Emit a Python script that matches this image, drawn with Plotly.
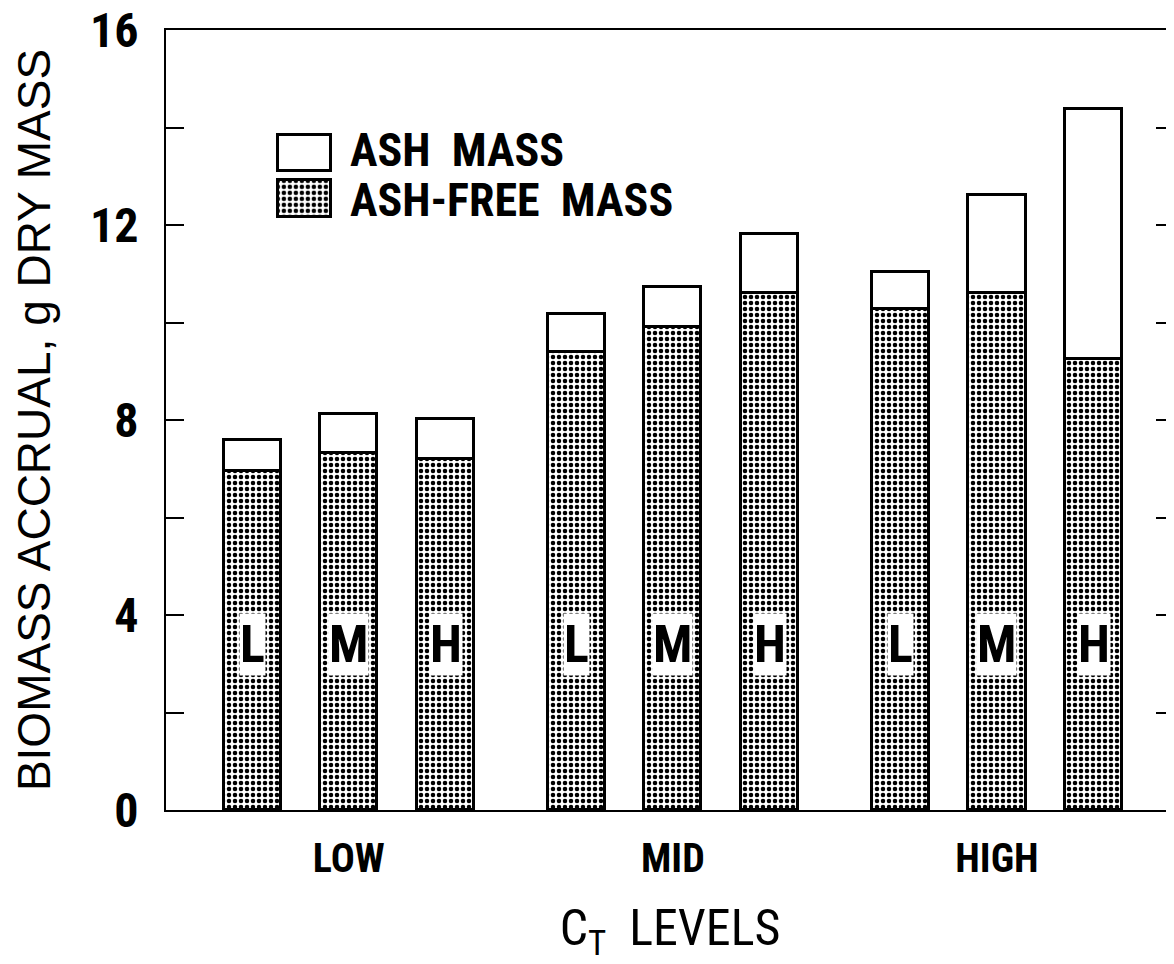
import plotly.graph_objects as go

groups = ["LOW", "MID", "HIGH"]
levels = ["L", "M", "H"]
ash_free = [6.96, 7.33, 7.21, 9.40, 9.91, 10.61, 10.27, 10.61, 9.26]
total = [7.59, 8.12, 8.02, 10.17, 10.73, 11.82, 11.04, 12.62, 14.37]
ash = [t - a for t, a in zip(total, ash_free)]
y_major = [0, 4, 8, 12, 16]

COND = "Roboto Condensed, Liberation Sans, sans-serif"
WIDE = "Liberation Sans, Arial, sans-serif"

group_step = 3.35
xpos = [g * group_step + m for g in range(len(groups)) for m in range(len(levels))]
group_centers = [g * group_step + 1 for g in range(len(groups))]

dots = dict(shape=".", fgcolor="black", bgcolor="white", size=6, solidity=0.45, fillmode="replace")
outline = dict(color="black", width=3)

fig = go.Figure()
fig.add_trace(go.Bar(x=xpos, y=ash_free, width=0.59, name="ASH-FREE MASS",
                     marker=dict(color="white", pattern=dots, line=outline)))
fig.add_trace(go.Bar(x=xpos, y=ash, width=0.59, name="ASH MASS",
                     marker=dict(color="white", line=outline)))

# legend swatches drawn as bars on a small hidden inset axis
fig.add_trace(go.Bar(x=[1], y=[1], orientation="h", width=0.8, xaxis="x2", yaxis="y2",
                     marker=dict(color="white", line=outline)))
fig.add_trace(go.Bar(x=[1], y=[0], orientation="h", width=0.8, xaxis="x2", yaxis="y2",
                     marker=dict(color="white", pattern=dots, line=outline)))

for i, x in enumerate(xpos):
    fig.add_annotation(x=x, y=3.4, text=levels[i % 3], showarrow=False, bgcolor="white",
                       borderpad=0, font=dict(family=COND, size=52, color="black", weight="bold"))

for label, yy in [("ASH&nbsp; MASS", 0.846), ("ASH-FREE&nbsp; MASS", 0.782)]:
    fig.add_annotation(xref="paper", yref="paper", x=0.181, y=yy, xanchor="left", yanchor="middle",
                       text=label, showarrow=False,
                       font=dict(family=COND, size=46, color="black", weight="bold"))

fig.update_layout(
    width=1166, height=956,
    margin=dict(l=158, r=0, t=22, b=154),
    barmode="stack", bargap=0, showlegend=False,
    plot_bgcolor="white", paper_bgcolor="white",
    xaxis=dict(range=[-0.89, 9.53], tickvals=group_centers, ticktext=groups, ticks="",
               showline=True, linecolor="black", linewidth=2, mirror=True, showgrid=False,
               zeroline=False, ticklabelstandoff=12, automargin=False,
               tickfont=dict(family=COND, size=40, color="black", weight="bold"),
               title=dict(text="C<sub>T</sub>&nbsp; LEVELS", standoff=30,
                          font=dict(family=COND, size=50, color="black"))),
    yaxis=dict(range=[0, 16], tickvals=y_major, ticks="inside", ticklen=18,
               tickwidth=2, tickcolor="black", showline=True, linecolor="black", linewidth=2,
               minor=dict(dtick=2, ticks="inside", ticklen=18, tickwidth=2, tickcolor="black",
                          showgrid=False),
               mirror="ticks", showgrid=False, zeroline=False, ticklabelstandoff=16,
               ticklabeloverflow="allow", automargin=False,
               tickfont=dict(family=COND, size=48, color="black", weight="bold"),
               title=dict(text="BIOMASS ACCRUAL, g DRY MASS", standoff=28,
                          font=dict(family=WIDE, size=46, color="black"))),
    xaxis2=dict(domain=[0.108, 0.166], anchor="y2", range=[-0.05, 1.05], visible=False,
                fixedrange=True),
    yaxis2=dict(domain=[0.755, 0.872], anchor="x2", range=[-0.5, 1.5], visible=False,
                fixedrange=True),
)

fig.write_html("out.html")
